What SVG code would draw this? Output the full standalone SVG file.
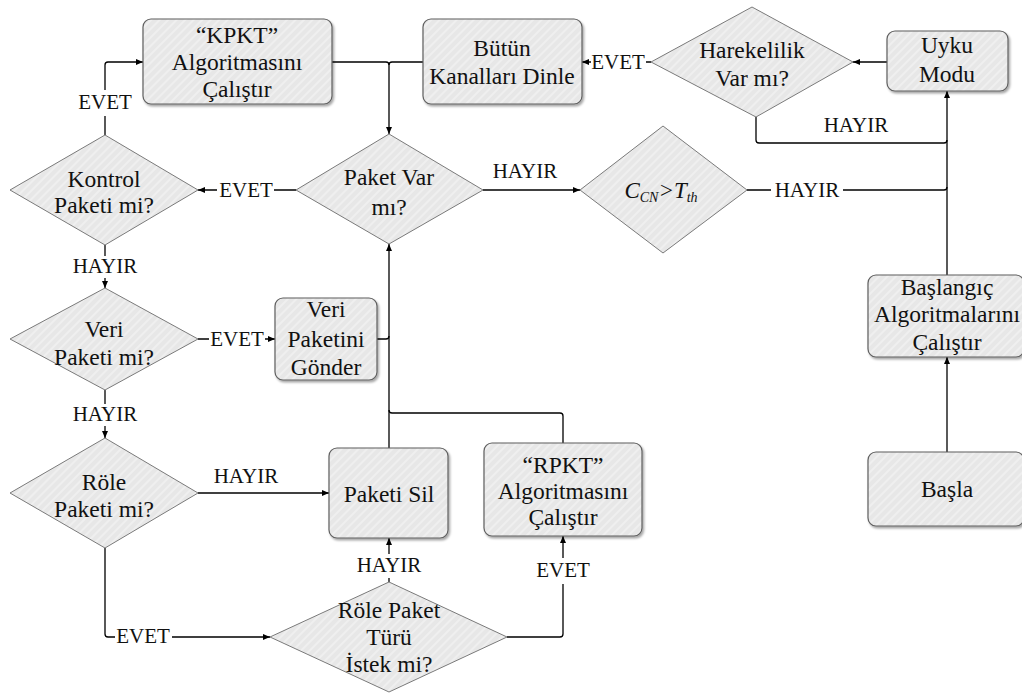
<svg xmlns="http://www.w3.org/2000/svg" width="1022" height="698" viewBox="0 0 1022 698">
  <defs>
    <pattern id="hatch" patternUnits="userSpaceOnUse" width="6" height="6" patternTransform="rotate(45)">
      <rect width="6" height="6" fill="#e7e7e7"/>
      <rect width="2" height="6" fill="#efefef"/>
    </pattern>
    <filter id="shadow" x="-10%" y="-10%" width="125%" height="130%">
      <feDropShadow dx="1.5" dy="2" stdDeviation="1.2" flood-color="#000" flood-opacity="0.35"/>
    </filter>
    <marker id="arrow" markerUnits="userSpaceOnUse" markerWidth="8" markerHeight="8" refX="7" refY="4" orient="auto">
      <path d="M0,1 L7,4 L0,7 z" fill="#000"/>
    </marker>
  </defs>
  <style>
    .box { fill: url(#hatch); stroke: #5f5f5f; stroke-width: 1.2; filter: url(#shadow); }
    .dia { fill: url(#hatch); stroke: #7a7a7a; stroke-width: 1; }
    text { font-family: "Liberation Serif", serif; }
    .txt { font-family: "Liberation Serif", serif; font-size: 23.5px; fill: #111; text-anchor: middle; }
    .lbl { font-family: "Liberation Serif", serif; font-size: 21px; fill: #111; text-anchor: middle; }
    .bg { fill: #fff; }
    .ln { fill: none; stroke: #000; stroke-width: 1.3; }
    .arr { marker-end: url(#arrow); }
  </style>
  <rect width="1022" height="698" fill="#fff"/>

  <!-- connectors -->
  <g id="connectors">
    <path class="ln arr" d="M887,62 H853"/>
    <path class="ln arr" d="M651,62 H582"/>
    <path class="ln" d="M756,117 V140 Q756,143 759,143 H944 Q947,143 947,140"/>
    <path class="ln" d="M747,190 H944 Q947,190 947,187"/>
    <path class="ln arr" d="M947,275 V91"/>
    <path class="ln arr" d="M947,452 V357"/>
    <path class="ln arr" d="M483,190 H580"/>
    <path class="ln arr" d="M296,190 H198"/>
    <path class="ln arr" d="M105,135 V65 Q105,62 108,62 H143"/>
    <path class="ln" d="M332,62 H386 Q389,62 389,65"/>
    <path class="ln arr" d="M423,62 H392 Q389,62 389,65 V134"/>
    <path class="ln arr" d="M105,245 V288"/>
    <path class="ln arr" d="M198,339 H275"/>
    <path class="ln" d="M377,339 H386 Q389,339 389,336"/>
    <path class="ln arr" d="M105,390 V438"/>
    <path class="ln" d="M563,443 V416 Q563,413 560,413 H392 Q389,413 389,410"/>
    <path class="ln arr" d="M389,448 V244"/>
    <path class="ln arr" d="M198,493 H329"/>
    <path class="ln arr" d="M105,548 V634 Q105,637 108,637 H270"/>
    <path class="ln arr" d="M389,582 V538"/>
    <path class="ln arr" d="M507,637 H560 Q563,637 563,634 V536"/>

    <!-- connector labels -->
    <rect class="bg" x="591" y="52" width="55" height="20"/>
    <text class="lbl" x="618" y="69">EVET</text>
    <text class="lbl" x="856" y="132">HAYIR</text>
    <rect class="bg" x="771" y="180" width="72" height="20"/>
    <text class="lbl" x="807" y="197">HAYIR</text>
    <text class="lbl" x="525" y="178">HAYIR</text>
    <rect class="bg" x="217" y="180" width="57" height="20"/>
    <text class="lbl" x="246" y="197">EVET</text>
    <rect class="bg" x="76" y="90" width="58" height="26"/>
    <text class="lbl" x="105" y="109">EVET</text>
    <rect class="bg" x="68" y="256" width="74" height="22"/>
    <text class="lbl" x="105" y="273">HAYIR</text>
    <rect class="bg" x="209" y="329" width="56" height="20"/>
    <text class="lbl" x="237" y="346">EVET</text>
    <rect class="bg" x="68" y="404" width="74" height="22"/>
    <text class="lbl" x="105" y="421">HAYIR</text>
    <text class="lbl" x="246" y="483">HAYIR</text>
    <rect class="bg" x="115" y="627" width="57" height="20"/>
    <text class="lbl" x="143" y="643">EVET</text>
    <rect class="bg" x="352" y="554" width="74" height="24"/>
    <text class="lbl" x="389" y="572">HAYIR</text>
    <rect class="bg" x="534" y="558" width="58" height="26"/>
    <text class="lbl" x="563" y="577">EVET</text>
  </g>

  <!-- nodes -->
  <g id="kpkt">
    <rect class="box" x="143" y="19" width="189" height="85" rx="8"/>
    <text class="txt" x="237" y="43">“KPKT”</text>
    <text class="txt" x="237" y="70">Algoritmasını</text>
    <text class="txt" x="237" y="97">Çalıştır</text>
  </g>
  <g id="butun">
    <rect class="box" x="423" y="19" width="159" height="85" rx="8"/>
    <text class="txt" x="502" y="56">Bütün</text>
    <text class="txt" x="502" y="84">Kanalları Dinle</text>
  </g>
  <g id="harekelilik">
    <polygon class="dia" points="752,7 853,62 756,117 651,62"/>
    <text class="txt" x="752" y="58">Harekelilik</text>
    <text class="txt" x="752" y="86">Var mı?</text>
  </g>
  <g id="uyku">
    <rect class="box" x="887" y="31" width="121" height="60" rx="8"/>
    <text class="txt" x="947" y="53">Uyku</text>
    <text class="txt" x="947" y="82">Modu</text>
  </g>
  <g id="kontrol">
    <polygon class="dia" points="105,135 198,190 105,245 10,190"/>
    <text class="txt" x="104" y="187">Kontrol</text>
    <text class="txt" x="104" y="213">Paketi mi?</text>
  </g>
  <g id="paketvar">
    <polygon class="dia" points="389,134 483,190 389,244 296,190"/>
    <text class="txt" x="389" y="185">Paket Var</text>
    <text class="txt" x="389" y="215">mı?</text>
  </g>
  <g id="ccn">
    <polygon class="dia" points="663,126 747,190 663,253 580,190"/>
    <text x="661" y="198" text-anchor="middle" font-style="italic" font-size="23" fill="#111">C<tspan font-size="14" dy="4">CN</tspan><tspan font-size="23" dy="-4">&gt;T</tspan><tspan font-size="14" dy="4">th</tspan></text>
  </g>
  <g id="veri">
    <polygon class="dia" points="105,288 198,339 105,390 10,339"/>
    <text class="txt" x="104" y="337">Veri</text>
    <text class="txt" x="104" y="365">Paketi mi?</text>
  </g>
  <g id="verigonder">
    <rect class="box" x="275" y="298" width="102" height="82" rx="8"/>
    <text class="txt" x="326" y="317">Veri</text>
    <text class="txt" x="326" y="347">Paketini</text>
    <text class="txt" x="326" y="375">Gönder</text>
  </g>
  <g id="role">
    <polygon class="dia" points="105,438 198,493 105,548 10,493"/>
    <text class="txt" x="104" y="490">Röle</text>
    <text class="txt" x="104" y="517">Paketi mi?</text>
  </g>
  <g id="paketisil">
    <rect class="box" x="329" y="448" width="119" height="90" rx="8"/>
    <text class="txt" x="389" y="502">Paketi Sil</text>
  </g>
  <g id="rpkt">
    <rect class="box" x="484" y="443" width="158" height="93" rx="8"/>
    <text class="txt" x="563" y="473">“RPKT”</text>
    <text class="txt" x="563" y="499">Algoritmasını</text>
    <text class="txt" x="563" y="525">Çalıştır</text>
  </g>
  <g id="roleturu">
    <polygon class="dia" points="389,582 507,637 389,692 270,637"/>
    <text class="txt" x="389" y="618">Röle Paket</text>
    <text class="txt" x="389" y="645">Türü</text>
    <text class="txt" x="389" y="672">İstek mi?</text>
  </g>
  <g id="baslangic">
    <rect class="box" x="868" y="275" width="156" height="82" rx="8"/>
    <text class="txt" x="947" y="295">Başlangıç</text>
    <text class="txt" x="947" y="322">Algoritmalarını</text>
    <text class="txt" x="947" y="350">Çalıştır</text>
  </g>
  <g id="basla">
    <rect class="box" x="868" y="452" width="156" height="74" rx="8"/>
    <text class="txt" x="947" y="497">Başla</text>
  </g>
</svg>
